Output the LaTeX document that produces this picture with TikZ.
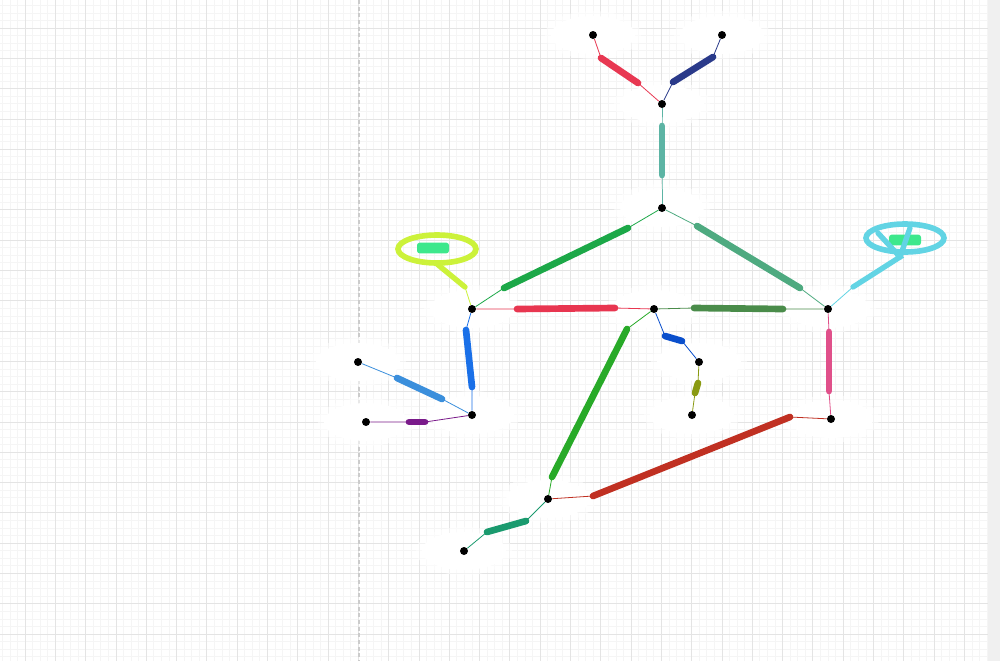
\documentclass[tikz,border=0pt]{standalone}
\pgfdeclarelayer{grid}
\pgfdeclarelayer{halo}
\pgfsetlayers{grid,halo,main}

\definecolor{gridmajor}{RGB}{228,228,228}
\definecolor{gridminor}{RGB}{245,245,245}
\definecolor{crimsonA}{RGB}{232,56,82}
\definecolor{navyA}{RGB}{42,58,138}
\definecolor{tealA}{RGB}{92,180,164}
\definecolor{greenA}{RGB}{28,168,72}
\definecolor{seaA}{RGB}{78,170,128}
\definecolor{redA}{RGB}{232,54,80}
\definecolor{mossA}{RGB}{74,140,74}
\definecolor{blueA}{RGB}{26,112,232}
\definecolor{skyA}{RGB}{59,143,220}
\definecolor{purpleA}{RGB}{122,26,138}
\definecolor{leafA}{RGB}{40,170,40}
\definecolor{cobaltA}{RGB}{10,79,204}
\definecolor{oliveA}{RGB}{138,154,18}
\definecolor{pinkA}{RGB}{224,80,138}
\definecolor{brickA}{RGB}{192,48,34}
\definecolor{jadeA}{RGB}{26,154,110}
\definecolor{limeA}{RGB}{204,242,58}
\definecolor{cyanA}{RGB}{98,212,228}
\definecolor{mintA}{RGB}{61,232,140}

\begin{document}
\begin{tikzpicture}[x=0.75pt,y=0.75pt,yscale=-1,xscale=1,
  dot/.style={circle,fill=black,inner sep=0pt,minimum size=6pt},
  wire/.style={line width=0.6pt},
  brush/.style={line width=5pt,line cap=round},
  bubble/.style={line width=4.2pt},
  tag/.style={fill=mintA,rounded corners=2pt}]
\useasboundingbox (0,0) rectangle (1000,661);

% Points
\node[dot] (tl) at (593,35) {};
\node[dot] (tr) at (722,35) {};
\node[dot] (fork) at (662,104) {};
\node[dot] (apex) at (662,208) {};
\node[dot] (lft) at (472,309) {};
\node[dot] (mid) at (654,309) {};
\node[dot] (rgt) at (828,309) {};
\node[dot] (lowl) at (472,415) {};
\node[dot] (farl) at (358,362) {};
\node[dot] (farb) at (366,422) {};
\node[dot] (dip) at (699,362) {};
\node[dot] (dipb) at (692,415) {};
\node[dot] (lowr) at (831,419) {};
\node[dot] (bot) at (548,499) {};
\node[dot] (tail) at (464,551) {};

% Paper
\begin{pgfonlayer}{grid}
\fill[white] (0,0) rectangle (1000,661);
\foreach \k in {0,...,132} \draw[gridminor,line width=0.5pt] ({-5.3+7.575*\k},0) -- ({-5.3+7.575*\k},661);
\foreach \k in {0,...,87} \draw[gridminor,line width=0.5pt] (0,{-2.3+7.575*\k}) -- (1000,{-2.3+7.575*\k});
\foreach \k in {0,...,33} \draw[gridmajor,line width=0.6pt] ({-5.3+30.3*\k},0) -- ({-5.3+30.3*\k},661);
\foreach \k in {0,...,22} \draw[gridmajor,line width=0.6pt] (0,{-2.3+30.3*\k}) -- (1000,{-2.3+30.3*\k});
\draw[black!20,line width=1pt,dash pattern=on 3pt off 2pt] (359,0) -- (359,661);
\fill[black!6] (988,0) rectangle (1000,661);
\end{pgfonlayer}

% Halos
\begin{pgfonlayer}{halo}
\foreach \n in {tl,tr,fork,apex,lft,mid,rgt,lowl,farl,farb,dip,dipb,lowr,bot,tail} {
  \fill[white,opacity=0.55] (\n) ellipse [x radius=48, y radius=24];
  \fill[white] (\n) ellipse [x radius=42, y radius=19];
}
\end{pgfonlayer}

% Strokes
\draw[wire,crimsonA] (tl) -- (601,58) -- (638,83) -- (fork);
\draw[brush,crimsonA] (601,58) -- (638,83);
\draw[wire,navyA] (tr) -- (713,57) -- (673,82) -- (fork);
\draw[brush,navyA] (713,57) -- (673,82);
\draw[wire,tealA] (fork) -- (662,126) -- (662,175) -- (apex);
\draw[brush,tealA] (662,126) -- (662,175);
\draw[wire,greenA] (apex) -- (628,228) -- (504,288) -- (lft);
\draw[brush,greenA] (628,228) -- (504,288);
\draw[wire,seaA] (apex) -- (697,226) -- (800,288) -- (rgt);
\draw[brush,seaA] (697,226) -- (800,288);
\draw[wire,redA] (lft) -- (517,309) -- (615,308) -- (mid);
\draw[brush,redA] (517,309) -- (615,308);
\draw[wire,mossA] (mid) -- (694,308) -- (783,309) -- (rgt);
\draw[brush,mossA] (694,308) -- (783,309);
\draw[wire,blueA] (lft) -- (466,330) -- (472,387) -- (lowl);
\draw[brush,blueA] (466,330) -- (472,387);
\draw[wire,skyA] (lowl) -- (442,399) -- (397,378) -- (farl);
\draw[brush,skyA] (442,399) -- (397,378);
\draw[wire,purpleA] (lowl) -- (425,422) -- (409,422) -- (farb);
\draw[brush,purpleA] (425,422) -- (409,422);
\draw[wire,leafA] (mid) -- (627,329) -- (552,477) -- (bot);
\draw[brush,leafA] (627,329) -- (552,477);
\draw[wire,cobaltA] (mid) -- (665,336) -- (682,341) -- (dip);
\draw[brush,cobaltA] (665,336) -- (682,341);
\draw[wire,oliveA] (dip) -- (698,383) -- (695,393) -- (dipb);
\draw[brush,oliveA] (698,383) -- (695,393);
\draw[wire,pinkA] (rgt) -- (829,332) -- (829,391) -- (lowr);
\draw[brush,pinkA] (829,332) -- (829,391);
\draw[wire,brickA] (lowr) -- (790,417) -- (593,496) -- (bot);
\draw[brush,brickA] (790,417) -- (593,496);
\draw[wire,jadeA] (bot) -- (526,521) -- (487,532) -- (tail);
\draw[brush,jadeA] (526,521) -- (487,532);

% Left bubble
\draw[bubble,limeA] (437,249) ellipse [x radius=39, y radius=14];
\node[tag,minimum width=24pt,minimum height=8pt,inner sep=0pt] (ltag) at (433,248) {};
\draw[wire,limeA] (lft) -- (465,287);
\draw[brush,limeA,line width=4pt] (465,287) -- (437,264);

% Right bubble
\draw[bubble,cyanA] (905,238) ellipse [x radius=39, y radius=14];
\node[tag,minimum width=24pt,minimum height=8pt,inner sep=0pt] (rtag) at (905,240) {};
\draw[wire,cyanA] (rgt) -- (853,287);
\draw[brush,cyanA,line width=4pt] (853,287) -- (900,257) -- (878,233);
\draw[brush,cyanA,line width=4pt] (900,257) -- (910,228);

\end{tikzpicture}
\end{document}
